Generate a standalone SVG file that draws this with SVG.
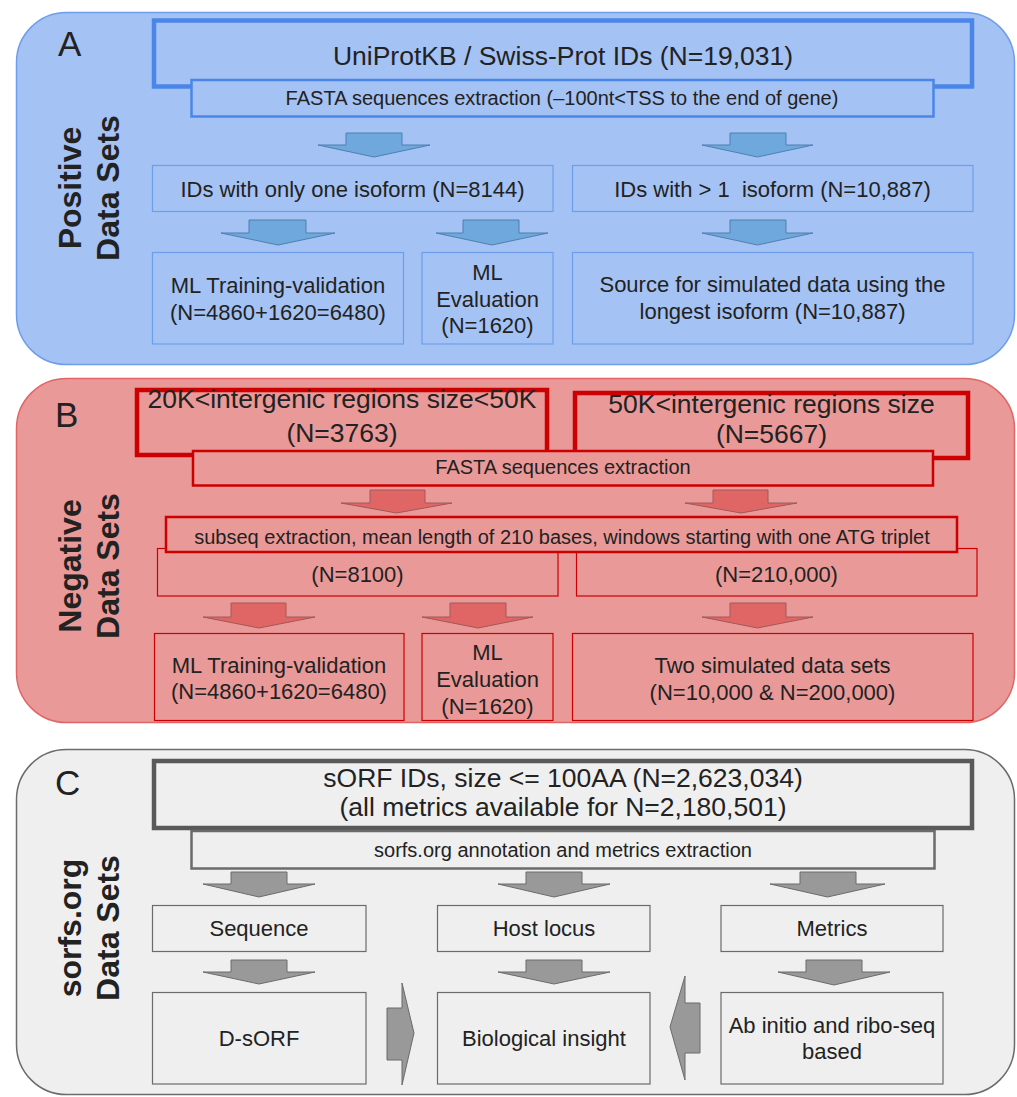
<svg xmlns="http://www.w3.org/2000/svg" width="1017" height="1097" viewBox="0 0 1017 1097">
<style>
text{font-family:"Liberation Sans",Arial,sans-serif;fill:#222;text-anchor:middle}
.big{font-size:26.5px}
.mid{font-size:20px}
.std{font-size:22px}
.lbl{font-size:35px;text-anchor:start}
.side{font-size:32px;font-weight:bold}
.pA{fill:#a4c2f4;stroke:#6d9eeb;stroke-width:1.5}
.pB{fill:#ea9999;stroke:#e06666;stroke-width:1.5}
.pC{fill:#efefef;stroke:#6b6b6b;stroke-width:1.5}
.bA{fill:#a4c2f4;stroke:#6d9eeb;stroke-width:1.2}
.bA4{fill:#a4c2f4;stroke:#4a86e8;stroke-width:4.5}
.bA2{fill:#a4c2f4;stroke:#4a86e8;stroke-width:2.5}
.bB{fill:#ea9999;stroke:#cc0000;stroke-width:1.2}
.bB4{fill:#ea9999;stroke:#cc0000;stroke-width:4.5}
.bB2{fill:#ea9999;stroke:#cc0000;stroke-width:2.5}
.bC{fill:#efefef;stroke:#6b6b6b;stroke-width:1.2}
.bC4{fill:#efefef;stroke:#595959;stroke-width:4.5}
.bC2{fill:#efefef;stroke:#6b6b6b;stroke-width:2.5}
.aA{fill:#6fa8dc;stroke:#4f7fb0;stroke-width:1}
.aB{fill:#e06666;stroke:#a05858;stroke-width:1}
.aC{fill:#999999;stroke:#6b6b6b;stroke-width:1}
</style>

<g id="panelA">
<rect class="pA" x="16.5" y="12.5" width="998" height="352" rx="50"/>
<text class="lbl" x="58" y="56">A</text>
<text class="side" transform="translate(81 188) rotate(-90)"><tspan x="0" y="0">Positive</tspan><tspan x="0" y="38">Data Sets</tspan></text>
</g>
<g id="panelB">
<rect class="pB" x="16.5" y="378.5" width="998" height="344" rx="50"/>
<text class="lbl" x="55" y="427">B</text>
<text class="side" transform="translate(81 566) rotate(-90)"><tspan x="0" y="0">Negative</tspan><tspan x="0" y="38">Data Sets</tspan></text>
</g>
<g id="panelC">
<rect class="pC" x="16.5" y="749.5" width="998" height="345" rx="50"/>
<text class="lbl" x="55" y="795">C</text>
<text class="side" transform="translate(81 928) rotate(-90)"><tspan x="0" y="0">sorfs.org</tspan><tspan x="0" y="38">Data Sets</tspan></text>
</g>

<!-- Panel A nodes -->
<g id="a_uniprot">
<rect class="bA4" x="154" y="20.5" width="818" height="66"/>
<text class="big" x="563" y="65">UniProtKB / Swiss-Prot IDs (N=19,031)</text>
</g>
<g id="a_fasta">
<rect class="bA2" x="191.5" y="80" width="742" height="36.5"/>
<text class="mid" x="562" y="105">FASTA sequences extraction (–100nt&lt;TSS to the end of gene)</text>
</g>
<g id="a_one">
<rect class="bA" x="152.5" y="165.5" width="400.5" height="46"/>
<text class="std" x="352.5" y="197">IDs with only one isoform (N=8144)</text>
</g>
<g id="a_multi">
<rect class="bA" x="572.5" y="165.5" width="400.5" height="46"/>
<text class="std" x="772.5" y="197" xml:space="preserve">IDs with &gt; 1  isoform (N=10,887)</text>
</g>
<g id="a_train">
<rect class="bA" x="152.5" y="252.5" width="251" height="91.5"/>
<text class="std" x="278" y="293">ML Training-validation</text>
<text class="std" x="278" y="320">(N=4860+1620=6480)</text>
</g>
<g id="a_eval">
<rect class="bA" x="422" y="252.5" width="131" height="91.5"/>
<text class="std" x="487.5" y="280">ML</text>
<text class="std" x="487.5" y="307">Evaluation</text>
<text class="std" x="487.5" y="333">(N=1620)</text>
</g>
<g id="a_source">
<rect class="bA" x="572.5" y="252.5" width="400.5" height="91.5"/>
<text class="std" x="772.5" y="292">Source for simulated data using the</text>
<text class="std" x="772.5" y="319">longest isoform (N=10,887)</text>
</g>

<!-- Panel B nodes -->
<g id="b_20k">
<rect class="bB4" x="137" y="390" width="410" height="65"/>
<text class="big" x="342" y="408">20K&lt;intergenic regions size&lt;50K</text>
<text class="big" x="342" y="442">(N=3763)</text>
</g>
<g id="b_50k">
<rect class="bB4" x="575" y="393" width="393" height="65"/>
<text class="big" x="771.5" y="413">50K&lt;intergenic regions size</text>
<text class="big" x="771.5" y="443">(N=5667)</text>
</g>
<g id="b_fasta">
<rect class="bB2" x="193" y="451" width="740" height="34.5"/>
<text class="mid" x="563" y="474">FASTA sequences extraction</text>
</g>
<g id="b_n8100">
<rect class="bB" x="157.5" y="548.5" width="400.5" height="47.5"/>
<text class="std" x="357.5" y="582">(N=8100)</text>
</g>
<g id="b_n210k">
<rect class="bB" x="576.5" y="548.5" width="400.5" height="47.5"/>
<text class="std" x="776.5" y="582">(N=210,000)</text>
</g>
<g id="b_subseq">
<rect class="bB2" x="166" y="517" width="791" height="35"/>
<text class="mid" x="562" y="544">subseq extraction, mean length of 210 bases, windows starting with one ATG triplet</text>
</g>
<g id="b_train">
<rect class="bB" x="154.5" y="633.5" width="249.5" height="87"/>
<text class="std" x="279" y="673">ML Training-validation</text>
<text class="std" x="279" y="699">(N=4860+1620=6480)</text>
</g>
<g id="b_eval">
<rect class="bB" x="422" y="633.5" width="131" height="87"/>
<text class="std" x="487.5" y="660">ML</text>
<text class="std" x="487.5" y="687">Evaluation</text>
<text class="std" x="487.5" y="714">(N=1620)</text>
</g>
<g id="b_sim">
<rect class="bB" x="572.5" y="633.5" width="400.5" height="87"/>
<text class="std" x="772.5" y="673">Two simulated data sets</text>
<text class="std" x="772.5" y="700">(N=10,000 &amp; N=200,000)</text>
</g>

<!-- Panel C nodes -->
<g id="c_sorf">
<rect class="bC4" x="154" y="761" width="818" height="67"/>
<text class="big" x="563" y="787">sORF IDs, size &lt;= 100AA (N=2,623,034)</text>
<text class="big" x="563" y="816">(all metrics available for N=2,180,501)</text>
</g>
<g id="c_annot">
<rect class="bC2" x="191.5" y="831" width="743" height="37.5"/>
<text class="mid" x="563" y="857">sorfs.org annotation and metrics extraction</text>
</g>
<g id="c_seq">
<rect class="bC" x="152.5" y="905.5" width="213.5" height="46"/>
<text class="std" x="259" y="936">Sequence</text>
</g>
<g id="c_host">
<rect class="bC" x="437.5" y="905.5" width="212.5" height="46"/>
<text class="std" x="544" y="936">Host locus</text>
</g>
<g id="c_metrics">
<rect class="bC" x="721" y="905.5" width="222" height="46"/>
<text class="std" x="832" y="936">Metrics</text>
</g>
<g id="c_dsorf">
<rect class="bC" x="152.5" y="992.5" width="213.5" height="91.5"/>
<text class="std" x="259" y="1046">D-sORF</text>
</g>
<g id="c_bio">
<rect class="bC" x="437.5" y="992.5" width="212.5" height="91.5"/>
<text class="std" x="544" y="1046">Biological insight</text>
</g>
<g id="c_abinitio">
<rect class="bC" x="721" y="992.5" width="222" height="91.5"/>
<text class="std" x="832" y="1033">Ab initio and ribo-seq</text>
<text class="std" x="832" y="1059">based</text>
</g>

<g id="connectors">
<polygon class="aA" points="346,133 402,133 402,145 430,145 374,157 318,145 346,145"/>
<polygon class="aA" points="730,133 786,133 786,145 813,145 757.5,157 702,145 730,145"/>
<polygon class="aA" points="249,220 306,220 306,233 335,233 278,245 221,233 249,233"/>
<polygon class="aA" points="463,220 519,220 519,233 548,233 492,245 436,233 463,233"/>
<polygon class="aA" points="730,220 786,220 786,233 813,233 757.5,245 702,233 730,233"/>

<polygon class="aB" points="370,490 425,490 425,503 452,503 396.5,513 341,503 370,503"/>
<polygon class="aB" points="713,490 768,490 768,503 797,503 741,513 685,503 713,503"/>
<polygon class="aB" points="231,603 286,603 286,617 315,617 259,628 203,617 231,617"/>
<polygon class="aB" points="450,603 506,603 506,617 533,617 478,628 422,617 450,617"/>
<polygon class="aB" points="730,603 786,603 786,617 813,617 757.5,628 702,617 730,617"/>

<polygon class="aC" points="231,872 287,872 287,884 315,884 259,897 203,884 231,884"/>
<polygon class="aC" points="526,872 582,872 582,884 610,884 554,897 498,884 526,884"/>
<polygon class="aC" points="800,872 856,872 856,884 885,884 827.5,897 770,884 800,884"/>
<polygon class="aC" points="231,960 287,960 287,972 315,972 259,984 203,972 231,972"/>
<polygon class="aC" points="526,960 582,960 582,972 610,972 554,984 498,972 526,972"/>
<polygon class="aC" points="806,960 862,960 862,972 890,972 834,985 778,972 806,972"/>
<polygon class="aC" points="387,1008 402,1008 402,983 414,1033 402,1085 402,1060 387,1060"/>
<polygon class="aC" points="700,1003 685,1003 685,976 670,1027 685,1080 685,1053 700,1053"/>
</g>
</svg>
